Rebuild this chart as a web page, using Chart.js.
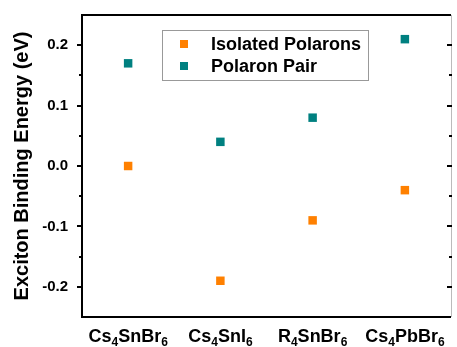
<!DOCTYPE html>
<html>
<head>
<meta charset="utf-8">
<title>Exciton Binding Energy</title>
<script src="https://cdn.jsdelivr.net/npm/chart.js@4"></script>
<style>
  html, body { margin: 0; padding: 0; background: #fff; }
  #chart { display: block; }
</style>
</head>
<body>
<canvas id="chart" width="457" height="347"></canvas>
<script>
// ── Data ──────────────────────────────────────────────────────
const categories       = ['Cs4SnBr6', 'Cs4SnI6', 'R4SnBr6', 'Cs4PbBr6'];
const isolatedPolarons = [0.00, -0.19, -0.09, -0.04];
const polaronPair      = [0.17, 0.04, 0.08, 0.21];
const yTicks           = [-0.2, -0.1, 0.0, 0.1, 0.2];
const yMinorTicks      = [-0.15, -0.05, 0.05, 0.15];

const ORANGE = '#ff8000';
const TEAL   = '#008080';
const FONT   = '"Liberation Sans", Arial, sans-serif';

function toPoints(values) {
  return values.map((v, i) => ({ x: i + 1, y: v }));
}

// ── Helpers ───────────────────────────────────────────────────
// split "Cs4SnBr6" into normal text / subscript digits
function splitFormula(str) {
  return str.match(/\d+|\D+/g).map(p => ({ text: p, sub: /^\d+$/.test(p) }));
}

// ── Plugin: frame, ticks, x labels, legend ────────────────────
const decorPlugin = {
  id: 'decor',
  afterDraw(chart) {
    const ctx = chart.ctx;
    const { left, right, top, bottom } = chart.chartArea;
    const yScale = chart.scales.y;
    const xScale = chart.scales.x;

    ctx.save();
    ctx.strokeStyle = '#000';
    ctx.lineWidth = 2;

    // frame
    ctx.beginPath();
    ctx.moveTo(left, top); ctx.lineTo(right, top);
    ctx.moveTo(left, bottom); ctx.lineTo(right, bottom);
    ctx.moveTo(left, top - 1); ctx.lineTo(left, bottom + 1);
    ctx.stroke();

    ctx.strokeStyle = '#bbb';
    ctx.lineWidth = 1;
    ctx.beginPath();
    ctx.moveTo(right + 0.5, top); ctx.lineTo(right + 0.5, bottom);
    ctx.stroke();

    // y ticks: outward on left, inward on right
    ctx.strokeStyle = '#000';
    ctx.lineWidth = 2;
    ctx.beginPath();
    yTicks.forEach(v => {
      const py = Math.round(yScale.getPixelForValue(v));
      ctx.moveTo(left - 5, py); ctx.lineTo(left, py);
      ctx.moveTo(right - 4, py); ctx.lineTo(right + 1, py);
    });
    yMinorTicks.forEach(v => {
      const py = Math.round(yScale.getPixelForValue(v));
      ctx.moveTo(left - 3, py); ctx.lineTo(left, py);
      ctx.moveTo(right - 2, py); ctx.lineTo(right + 1, py);
    });
    ctx.stroke();

    // x labels with subscripts
    const bigFont = 'bold 18px ' + FONT;
    const subFont = 'bold 12px ' + FONT;
    ctx.fillStyle = '#000';
    ctx.textBaseline = 'alphabetic';
    ctx.textAlign = 'left';
    categories.forEach((name, i) => {
      const parts = splitFormula(name);
      let w = 0;
      parts.forEach(p => {
        ctx.font = p.sub ? subFont : bigFont;
        p.w = ctx.measureText(p.text).width;
        w += p.w;
      });
      let px = xScale.getPixelForValue(i + 1) - w / 2;
      const base = 342;
      parts.forEach(p => {
        ctx.font = p.sub ? subFont : bigFont;
        ctx.fillText(p.text, px, p.sub ? base + 4 : base);
        px += p.w;
      });
    });

    // legend box
    ctx.strokeStyle = '#999';
    ctx.lineWidth = 1;
    ctx.strokeRect(162.5, 30.5, 206, 50);
    ctx.font = 'bold 18px ' + FONT;
    ctx.textBaseline = 'middle';
    chart.data.datasets.forEach((ds, i) => {
      const cy = 44 + i * 22;
      ctx.fillStyle = ds.backgroundColor;
      ctx.fillRect(180, cy - 4, 8, 8);
      ctx.fillStyle = '#000';
      ctx.fillText(ds.label, 211, cy + 1);
    });

    ctx.restore();
  }
};

// ── Chart ─────────────────────────────────────────────────────
const pointStyle = { pointStyle: 'rect', pointRadius: 6, pointHoverRadius: 6, borderWidth: 0, showLine: false };

new Chart(document.getElementById('chart'), {
  type: 'scatter',
  data: {
    datasets: [
      Object.assign({ label: 'Isolated Polarons', data: toPoints(isolatedPolarons),
        backgroundColor: ORANGE, borderColor: ORANGE }, pointStyle),
      Object.assign({ label: 'Polaron Pair', data: toPoints(polaronPair),
        backgroundColor: TEAL, borderColor: TEAL }, pointStyle)
    ]
  },
  options: {
    responsive: false,
    animation: false,
    layout: { padding: { top: 15, right: 1, left: 0, bottom: 0 } },
    plugins: {
      legend: { display: false },
      tooltip: { enabled: false }
    },
    scales: {
      x: {
        type: 'linear',
        min: 0.5,
        max: 4.5,
        grid: { display: false },
        border: { display: false },
        ticks: { display: false },
        afterFit(scale) {
          scale.height = 30;
          scale.paddingLeft = 0; scale.paddingRight = 0;
        }
      },
      y: {
        type: 'linear',
        min: -0.25,
        max: 0.25,
        grid: { display: false, drawTicks: false },
        border: { display: false },
        afterBuildTicks(scale) { scale.ticks = yTicks.map(v => ({ value: v })); },
        ticks: {
          padding: 14,
          color: '#000',
          font: { family: FONT, size: 15, weight: 'bold' },
          callback: v => v.toFixed(1)
        },
        title: {
          display: true,
          text: 'Exciton Binding Energy (eV)',
          color: '#000',
          font: { family: FONT, size: 20, weight: 'bold' },
          padding: { top: 10 }
        },
        afterFit(scale) {
          scale.width = 82;
          scale.paddingTop = 0; scale.paddingBottom = 0;
        }
      }
    }
  },
  plugins: [decorPlugin]
});
</script>
</body>
</html>
